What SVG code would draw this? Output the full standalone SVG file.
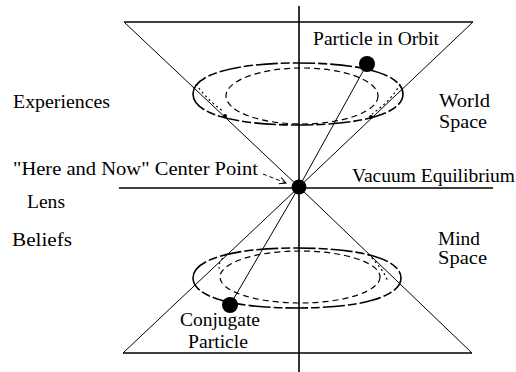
<svg xmlns="http://www.w3.org/2000/svg" width="516" height="372" viewBox="0 0 516 372">
<style>
text{font-family:"Liberation Serif","Times New Roman",serif;font-size:19px;fill:#000}
.ln{stroke:#000;stroke-width:1;fill:none}
.ax{stroke:#000;stroke-width:1.6;fill:none}
.orb{stroke:#000;stroke-width:1.6;fill:none;stroke-dasharray:22 3 9 3}
.inn{stroke:#000;stroke-width:1.2;fill:none;stroke-dasharray:6 4}
.dot{stroke:#000;stroke-width:1.2;fill:none;stroke-dasharray:2 3}
</style>
<defs>
<marker id="arr" viewBox="0 0 10 10" refX="9" refY="5" markerWidth="8" markerHeight="8" orient="auto" markerUnits="userSpaceOnUse">
<path d="M1,1 L9,5 L1,9" fill="none" stroke="#000" stroke-width="1.2"/>
</marker>
</defs>
<rect width="516" height="372" fill="#fff"/>
<g id="axes">
<line class="ax" x1="299" y1="6" x2="299" y2="372"/>
<line class="ax" x1="119" y1="188" x2="493" y2="188"/>
</g>
<g id="world-cone">
<line class="ax" x1="124" y1="22" x2="473" y2="22"/>
<line class="ln" x1="124" y1="22" x2="299" y2="187"/>
<line class="ln" x1="473" y1="22" x2="299" y2="187"/>
<path class="orb" d="M193,94 C193,74.8 232.9,63 298,63 C363.1,63 403,74.8 403,94 C403,113.2 363.1,125 298,125 C232.9,125 193,113.2 193,94 Z"/>
<ellipse class="inn" cx="302" cy="96" rx="76" ry="28"/>
<path class="dot" d="M196,84 Q205,98 224,112"/>
<path class="dot" d="M400,84 Q392,100 372,114"/>
<circle cx="225" cy="116" r="2"/>
<circle cx="371" cy="117" r="2"/>
</g>
<g id="mind-cone">
<line class="ax" x1="123" y1="353" x2="472" y2="353"/>
<line class="ln" x1="299" y1="187" x2="123" y2="353"/>
<line class="ln" x1="299" y1="187" x2="472" y2="353"/>
<path class="orb" d="M193,278 C193,259.4 232.5,248 297,248 C361.5,248 401,259.4 401,278 C401,296.6 361.5,308 297,308 C232.5,308 193,296.6 193,278 Z"/>
<ellipse class="inn" cx="300" cy="277" rx="80" ry="26"/>
<path class="dot" d="M226,254 Q214,268 222,270"/>
<path class="dot" d="M368,254 Q384,270 388,282"/>
</g>
<g id="connectors">
<line class="ln" x1="367" y1="64" x2="299" y2="187"/>
<line class="ln" x1="230" y1="305" x2="299" y2="187"/>
<line class="ln" x1="263" y1="174" x2="286" y2="183" stroke-dasharray="4 3" marker-end="url(#arr)"/>
</g>
<g id="center-point"><circle cx="299" cy="187" r="7.5"/></g>
<g id="particle-in-orbit"><circle cx="367" cy="64" r="8"/><text x="313" y="45" textLength="126" lengthAdjust="spacingAndGlyphs">Particle in Orbit</text></g>
<g id="conjugate-particle"><circle cx="230" cy="305" r="8"/>
<text x="180" y="326" textLength="80" lengthAdjust="spacingAndGlyphs">Conjugate</text>
<text x="188" y="348" textLength="60" lengthAdjust="spacingAndGlyphs">Particle</text></g>
<g id="labels">
<text x="439" y="107" textLength="51" lengthAdjust="spacingAndGlyphs">World</text>
<text x="439" y="128" textLength="48" lengthAdjust="spacingAndGlyphs">Space</text>
<text x="13" y="108" textLength="97" lengthAdjust="spacingAndGlyphs">Experiences</text>
<text x="13" y="175" textLength="245" lengthAdjust="spacingAndGlyphs">"Here and Now" Center Point</text>
<text x="27" y="208" textLength="38" lengthAdjust="spacingAndGlyphs">Lens</text>
<text x="352" y="182" textLength="163" lengthAdjust="spacingAndGlyphs">Vacuum Equilibrium</text>
<text x="438" y="245" textLength="42" lengthAdjust="spacingAndGlyphs">Mind</text>
<text x="438" y="264" textLength="49" lengthAdjust="spacingAndGlyphs">Space</text>
<text x="12" y="246" textLength="60" lengthAdjust="spacingAndGlyphs">Beliefs</text>
</g>
</svg>
